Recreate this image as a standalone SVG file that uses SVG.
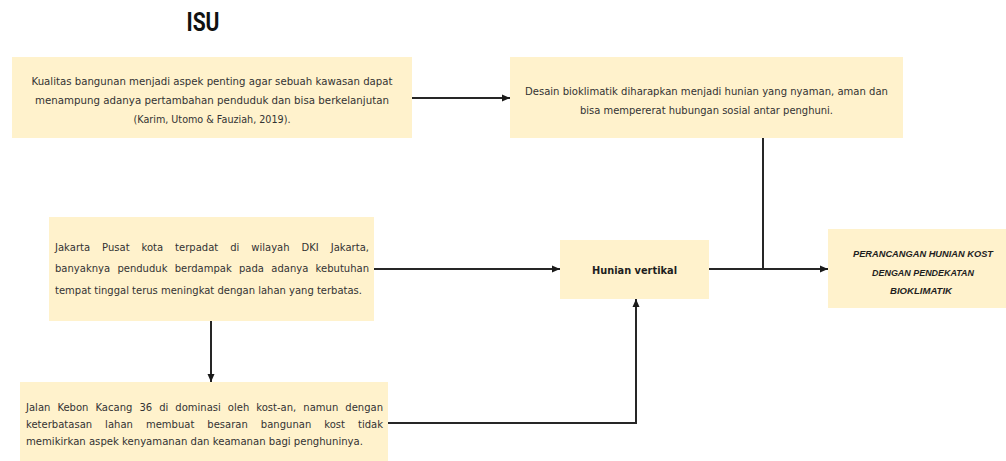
<svg xmlns="http://www.w3.org/2000/svg" width="1006" height="461" viewBox="0 0 1006 461">
  <style>
    .box { fill: #FFF2CC; }
    .t { font-family: "DejaVu Sans", "Liberation Sans", sans-serif; font-size: 10px; fill: #333; }
    .c { text-anchor: middle; }
    .b { font-weight: bold; fill: #1e1e1e; font-size: 10.5px; }
    .bi { font-family: "Liberation Sans", Arial, sans-serif; font-size: 9.5px; font-weight: bold; font-style: italic; fill: #1e1e1e; text-anchor: middle; }
    .title { font-family: Roboto, "Liberation Sans", sans-serif; font-size: 25px; font-weight: bold; fill: #111; text-anchor: middle; }
    .ln { fill: none; stroke: #262626; stroke-width: 2; }
  </style>
  <defs>
    <marker id="ah" markerUnits="userSpaceOnUse" markerWidth="9" markerHeight="8" refX="8" refY="4" orient="auto">
      <path d="M0,0.5 L8,4 L0,7.5 Z" fill="#1a1a1a"/>
    </marker>
  </defs>

  <text class="title" x="203" y="31" textLength="33" lengthAdjust="spacingAndGlyphs">ISU</text>

  <g id="connectors">
    <line class="ln" x1="412" y1="98" x2="510" y2="98" marker-end="url(#ah)"/>
    <line class="ln" x1="763" y1="138" x2="763" y2="269"/>
    <line class="ln" x1="374" y1="269" x2="560" y2="269" marker-end="url(#ah)"/>
    <line class="ln" x1="709" y1="269" x2="828" y2="269" marker-end="url(#ah)"/>
    <line class="ln" x1="211" y1="321" x2="211" y2="382" marker-end="url(#ah)"/>
    <polyline class="ln" points="388,423 636,423 636,299" marker-end="url(#ah)"/>
  </g>

  <g id="kualitas">
    <rect class="box" x="12" y="57" width="400" height="81"/>
    <text class="t c" x="212" y="84.5" textLength="361" lengthAdjust="spacingAndGlyphs">Kualitas bangunan menjadi aspek penting agar sebuah kawasan dapat</text>
    <text class="t c" x="212" y="103.5" textLength="354" lengthAdjust="spacingAndGlyphs">menampung adanya pertambahan penduduk dan bisa berkelanjutan</text>
    <text class="t c" x="212" y="122.5" textLength="157" lengthAdjust="spacingAndGlyphs">(Karim, Utomo &amp; Fauziah, 2019).</text>
  </g>

  <g id="desain">
    <rect class="box" x="510" y="57" width="393" height="81"/>
    <text class="t c" x="706.5" y="94.5" textLength="363" lengthAdjust="spacingAndGlyphs">Desain bioklimatik diharapkan menjadi hunian yang nyaman, aman dan</text>
    <text class="t c" x="706.5" y="113.5" textLength="253" lengthAdjust="spacingAndGlyphs">bisa mempererat hubungan sosial antar penghuni.</text>
  </g>

  <g id="jakarta">
    <rect class="box" x="49" y="217" width="325" height="104"/>
    <text class="t" x="55" y="250.5" word-spacing="8.7" textLength="314" lengthAdjust="spacing">Jakarta Pusat kota terpadat di wilayah DKI Jakarta,</text>
    <text class="t" x="55" y="272" word-spacing="4.1" textLength="314" lengthAdjust="spacing">banyaknya penduduk berdampak pada adanya kebutuhan</text>
    <text class="t" x="55" y="293.5" textLength="307" lengthAdjust="spacingAndGlyphs">tempat tinggal terus meningkat dengan lahan yang terbatas.</text>
  </g>

  <g id="hunian">
    <rect class="box" x="560" y="240" width="149" height="59"/>
    <text class="t c b" x="634.5" y="273.5" textLength="85" lengthAdjust="spacingAndGlyphs">Hunian vertikal</text>
  </g>

  <g id="perancangan">
    <rect class="box" x="828" y="229" width="178" height="79"/>
    <text class="bi" x="923" y="256.5" textLength="140" lengthAdjust="spacingAndGlyphs">PERANCANGAN HUNIAN KOST</text>
    <text class="bi" x="923" y="275.5" textLength="102" lengthAdjust="spacingAndGlyphs">DENGAN PENDEKATAN</text>
    <text class="bi" x="921" y="293.5" textLength="62" lengthAdjust="spacingAndGlyphs">BIOKLIMATIK</text>
  </g>

  <g id="kebon">
    <rect class="box" x="20" y="382" width="368" height="79"/>
    <text class="t" x="26" y="410.5" word-spacing="3.8" textLength="357" lengthAdjust="spacing">Jalan Kebon Kacang 36 di dominasi oleh kost-an, namun dengan</text>
    <text class="t" x="26" y="427.5" word-spacing="9.8" textLength="357" lengthAdjust="spacing">keterbatasan lahan membuat besaran bangunan kost tidak</text>
    <text class="t" x="26" y="444.5" textLength="337" lengthAdjust="spacingAndGlyphs">memikirkan aspek kenyamanan dan keamanan bagi penghuninya.</text>
  </g>
</svg>
